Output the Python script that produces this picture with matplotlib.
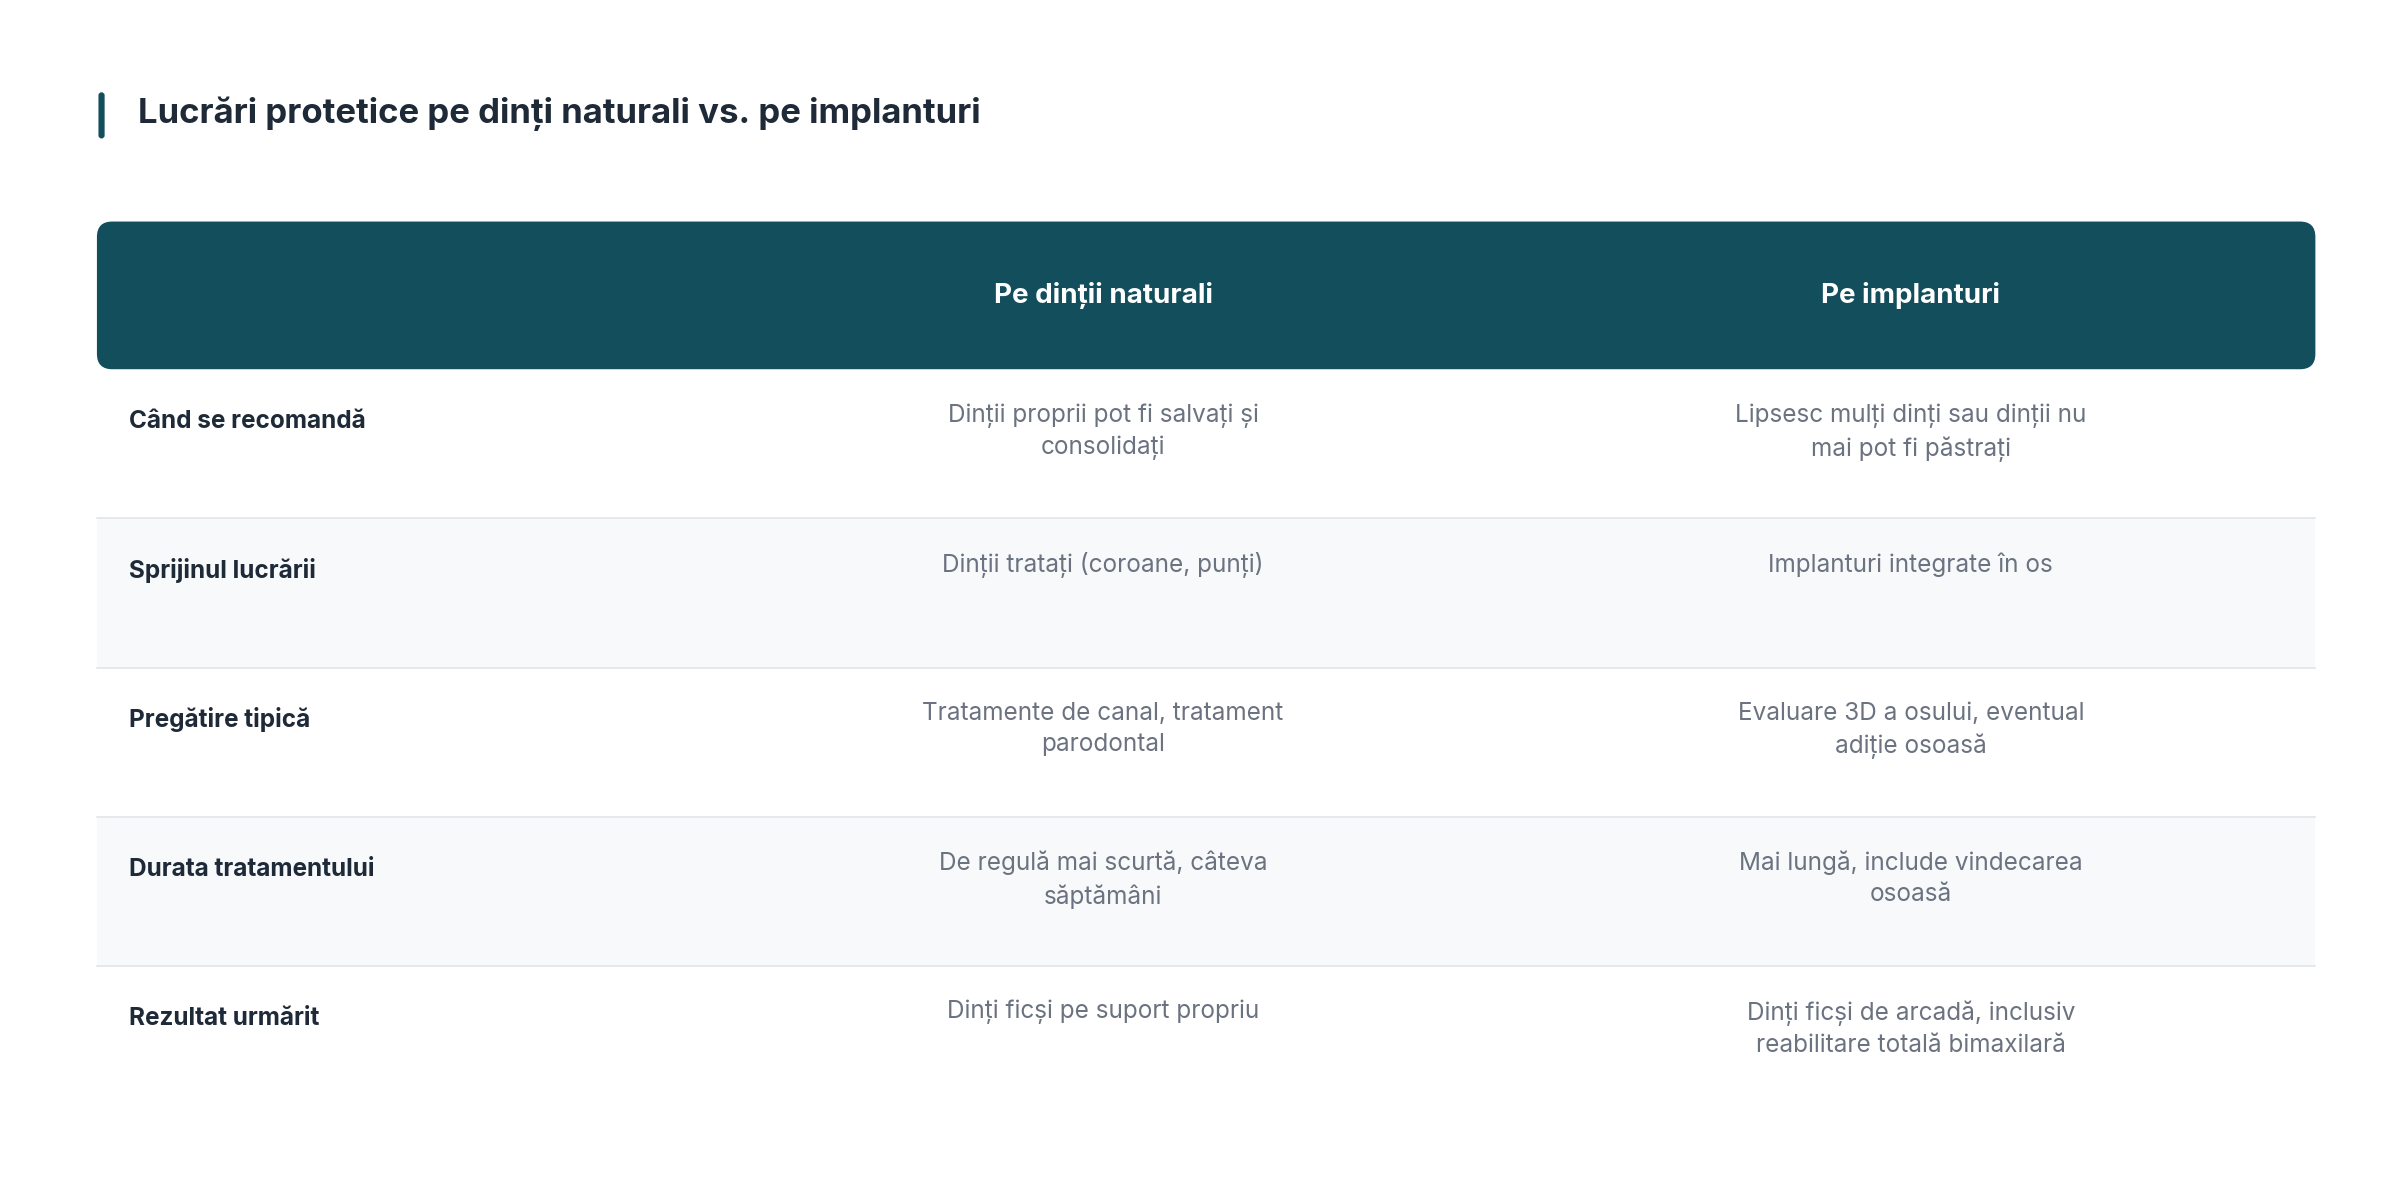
import matplotlib.pyplot as plt
from matplotlib.patches import FancyBboxPatch, Rectangle

title = "Lucrări protetice pe dinți naturali vs. pe implanturi"
headers = ["Pe dinții naturali", "Pe implanturi"]
row_labels = ["Când se recomandă", "Sprijinul lucrării", "Pregătire tipică",
              "Durata tratamentului", "Rezultat urmărit"]
natural = ["Dinții proprii pot fi salvați și\nconsolidați",
           "Dinții tratați (coroane, punți)",
           "Tratamente de canal, tratament\nparodontal",
           "De regulă mai scurtă, câteva\nsăptămâni",
           "Dinți ficși pe suport propriu"]
implant = ["Lipsesc mulți dinți sau dinții nu\nmai pot fi păstrați",
           "Implanturi integrate în os",
           "Evaluare 3D a osului, eventual\nadiție osoasă",
           "Mai lungă, include vindecarea\nosoasă",
           "Dinți ficși de arcadă, inclusiv\nreabilitare totală bimaxilară"]

plt.rcParams['font.family'] = ['Inter', 'DejaVu Sans']
W, H = 1560, 782.6
fig = plt.figure(figsize=(24, 12.04), dpi=100)
ax = fig.add_axes([0, 0, 1, 1])
ax.set_xlim(0, W)
ax.set_ylim(H, 0)
ax.axis('off')

dark = '#124e5c'
ax.add_patch(FancyBboxPatch((64, 60), 4, 30, boxstyle="round,pad=0,rounding_size=2",
                            fc=dark, ec='none'))
ax.text(90, 74, title, fontsize=25, fontweight='bold', color='#1e2a38', va='center')

left, right = 63, 1505
top, hdr_h, row_h = 144, 96, 97
ax.add_patch(FancyBboxPatch((left, top), right - left, hdr_h,
                            boxstyle="round,pad=0,rounding_size=10", fc=dark, ec='none'))
cols = [717, 1242]
for cx, h in zip(cols, headers):
    ax.text(cx, top + hdr_h / 2, h, fontsize=20, fontweight='bold', color='white',
            ha='center', va='center')

for i, lab in enumerate(row_labels):
    y0 = top + hdr_h + i * row_h
    if i % 2 == 1:
        ax.add_patch(Rectangle((left, y0), right - left, row_h, fc='#f7f9fb', ec='none'))
    if i > 0:
        ax.plot([left, right], [y0, y0], color='#e2e5e9', lw=1.2)
    ax.text(84, y0 + 34, lab, fontsize=17.5, fontweight='bold', color='#1e2a38',
            va='center')
    for cx, txt in zip(cols, [natural[i], implant[i]]):
        ax.text(cx, y0 + 22, txt, fontsize=17.5, color='#6b7280', ha='center',
                va='top', linespacing=1.45)

fig.savefig('out.png', dpi=100, facecolor='white')
